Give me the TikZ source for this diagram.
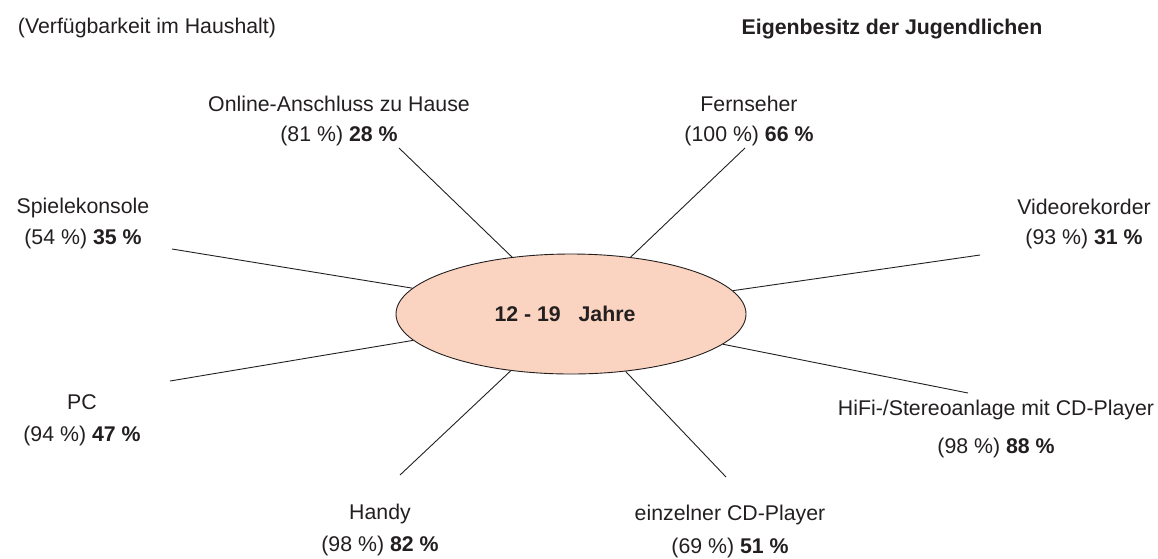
\documentclass[tikz,border=0pt]{standalone}
\usepackage{fontspec}
\setmainfont{Liberation Sans}
\usepackage{xcolor}
\usetikzlibrary{shapes.geometric}

\definecolor{peach}{RGB}{250,212,192}
\definecolor{ink}{RGB}{35,31,32}

\tikzset{
    lbl/.style={align=center, inner sep=0pt, text=ink,
        font=\fontsize{21.3}{30}\selectfont},
    ray/.style={ink, line width=0.9pt}
}

\begin{document}
\begin{tikzpicture}[x=1pt, y=-1pt]
            \useasboundingbox (0,0) rectangle (1158,558);

            \node[ellipse, draw=ink, line width=0.9pt, fill=peach, minimum width=350pt, minimum height=120pt, inner sep=0pt,
                font=\fontsize{21.3}{24}\bfseries\selectfont, text=ink] (age) at (571,314) {\hspace*{-12pt}12 - 19\ \ \ Jahre};

            \coordinate (pOnline) at (399,148);
            \coordinate (pTV) at (745,148);
            \coordinate (pGame) at (172,249);
            \coordinate (pVideo) at (980,255);
            \coordinate (pPC) at (170,381);
            \coordinate (pHifi) at (968,393);
            \coordinate (pHandy) at (400,475);
            \coordinate (pCD) at (726,477);

            \foreach \p in {pOnline,pTV,pGame,pVideo,pPC,pHifi,pHandy,pCD}
                \draw[ray] (age) -- (\p);

            \node[lbl] (haushalt) at (147,27.5) {(Verfügbarkeit im Haushalt)};
            \node[lbl, font=\fontsize{21.3}{30}\bfseries\selectfont] (eigen) at (892,29.5) {Eigenbesitz der Jugendlichen};

            \node[lbl] (online) at (339,121) {Online-Anschluss zu Hause\\(81 \%) \textbf{28 \%}};
            \node[lbl] (tv) at (749,121) {Fernseher\\(100 \%) \textbf{66 \%}};
            \node[lbl] (game) at (83,223) {Spielekonsole\\[1pt](54 \%) \textbf{35 \%}};
            \node[lbl] (video) at (1084,224) {Videorekorder\\(93 \%) \textbf{31 \%}};
            \node[lbl] (pc) at (82,420) {PC\\[2pt](94 \%) \textbf{47 \%}};
            \node[lbl] (hifi) at (996,428.5) {HiFi-/Stereoanlage mit CD-Player\\[8pt](98 \%) \textbf{88 \%}};
            \node[lbl] (handy) at (380,529.5) {Handy\\[2pt](98 \%) \textbf{82 \%}};
            \node[lbl] (cd) at (730,531.5) {einzelner CD-Player\\[3pt](69 \%) \textbf{51 \%}};
        \end{tikzpicture}
\end{document}
